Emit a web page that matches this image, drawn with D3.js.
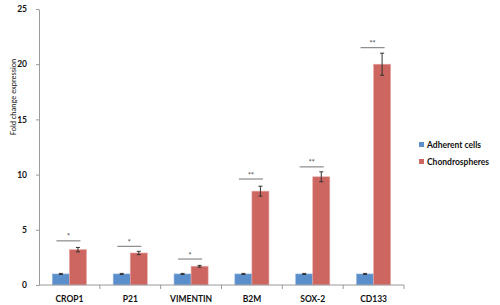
<!DOCTYPE html>
<html>
<head>
<meta charset="utf-8">
<script src="https://cdn.jsdelivr.net/npm/d3@7"></script>
<style>
  body { margin: 0; background: #fff; }
  text { font-family: Lato, "Open Sans", sans-serif; }
</style>
</head>
<body>
<div id="container"></div>
<script>
const width = 500,
  height = 305,
  margin = { top: 9, bottom: 20, left: 39, right: 96 };

/** -------------- DATA -------------- */

const categories = ["CROP1", "P21", "VIMENTIN", "B2M", "SOX-2", "CD133"];
const seriesNames = ["Adherent cells", "Chondrospheres"];
const adherent = [1.0, 1.0, 1.0, 1.0, 1.0, 1.0];
const adherentErr = [0.05, 0.05, 0.05, 0.05, 0.05, 0.05];
const chondro = [3.2, 2.9, 1.7, 8.5, 9.8, 20.0];
const chondroErr = [0.2, 0.15, 0.08, 0.45, 0.45, 1.0];
const sigLevel = [4.0, 3.5, 2.35, 9.6, 10.7, 21.5];
const sigLabel = ["*", "*", "*", "**", "**", "**"];
const yTicks = [0, 5, 10, 15, 20, 25];
const colors = ["#5b8fcc", "#cd6661"];

/** -------------- SCALES -------------- */

const plotRight = width - margin.right - 0;
const y = d3.scaleLinear([0, 25], [285, margin.top]);

const xb = d3.scaleBand(categories, [margin.left, 404]);
const x0 = d3.scaleBand(categories, [margin.left, 404])
  .paddingInner(0.44)
  .paddingOuter(0.22);
const x1 = d3.scaleBand([0, 1], [0, x0.bandwidth()]);

const rows = categories.map((c, i) => ({
  cat: c,
  vals: [adherent[i], chondro[i]],
  errs: [adherentErr[i], chondroErr[i]],
  sig: sigLevel[i],
  label: sigLabel[i]
}));

/** -------------- DRAW -------------- */

const svg = d3.select("#container")
  .append("svg")
  .attr("width", width)
  .attr("height", height);

// y axis
const yAxis = svg.append("g")
  .attr("transform", `translate(${margin.left},0)`)
  .call(d3.axisLeft(y).tickValues(yTicks).tickSize(3).tickSizeOuter(0).tickPadding(9));
yAxis.select(".domain").attr("stroke", "#9a9a9a");
yAxis.selectAll(".tick line").attr("stroke", "#9a9a9a");
yAxis.selectAll(".tick text")
  .attr("font-size", 8.5)
  .attr("font-weight", "bold")
  .attr("fill", "#111");

svg.append("text")
  .attr("transform", `translate(13,97) rotate(-90)`)
  .attr("text-anchor", "middle")
  .attr("dy", "0.35em")
  .attr("font-size", 7.5)
  .attr("fill", "#111")
  .text("Fold change expression");

// bars
const groups = svg.append("g")
  .selectAll("g")
  .data(rows)
  .join("g")
    .attr("transform", d => `translate(${x0(d.cat)},0)`);

groups.selectAll("rect")
  .data(d => d.vals.map((v, k) => ({ k, v })))
  .join("rect")
    .attr("x", d => x1(d.k))
    .attr("y", d => y(d.v))
    .attr("width", x1.bandwidth())
    .attr("height", d => y(0) - y(d.v))
    .attr("fill", d => colors[d.k])
    .attr("stroke", d => d.k ? "#e8a5a2" : "#8fb3dd")
    .attr("stroke-width", 0.6);

// error bars
groups.selectAll("g.err")
  .data(d => d.vals.map((v, k) => ({ k, v, e: d.errs[k] })))
  .join("g")
    .attr("class", "err")
    .attr("stroke", "#333")
    .attr("stroke-width", 1)
    .each(function (d) {
      const g = d3.select(this);
      const cx = x1(d.k) + x1.bandwidth() / 2;
      g.append("line").attr("x1", cx).attr("x2", cx).attr("y1", y(d.v + d.e)).attr("y2", y(d.v - d.e));
      g.append("line").attr("x1", cx - 2).attr("x2", cx + 2).attr("y1", y(d.v + d.e)).attr("y2", y(d.v + d.e));
      g.append("line").attr("x1", cx - 2).attr("x2", cx + 2).attr("y1", y(d.v - d.e)).attr("y2", y(d.v - d.e));
    });

// significance lines
groups.append("line")
  .attr("x1", 4)
  .attr("x2", x0.bandwidth() - 6)
  .attr("y1", d => y(d.sig))
  .attr("y2", d => y(d.sig))
  .attr("stroke", "#8a8a8a")
  .attr("stroke-width", 1.2);

groups.append("text")
  .attr("x", x0.bandwidth() / 2 - 1)
  .attr("y", d => y(d.sig) - 1.5)
  .attr("text-anchor", "middle")
  .attr("font-size", 7)
  .attr("font-weight", "bold")
  .attr("fill", "#555")
  .text(d => d.label);

// x axis
const xAxis = svg.append("g");
xAxis.append("line")
  .attr("x1", margin.left).attr("x2", 404)
  .attr("y1", y(0)).attr("y2", y(0))
  .attr("stroke", "#9a9a9a");
xAxis.selectAll("line.tick")
  .data(categories.slice(1).concat(["end"]))
  .join("line")
    .attr("class", "tick")
    .attr("x1", d => d === "end" ? 404 : xb(d))
    .attr("x2", d => d === "end" ? 404 : xb(d))
    .attr("y1", y(0))
    .attr("y2", y(0) + 4)
    .attr("stroke", "#9a9a9a");
xAxis.selectAll("text")
  .data(categories)
  .join("text")
    .attr("x", d => xb(d) + xb.bandwidth() / 2)
    .attr("y", 299)
    .attr("dy", "0.35em")
    .attr("text-anchor", "middle")
    .attr("font-size", 8.5)
    .attr("font-weight", "bold")
    .attr("fill", "#111")
    .text(d => d);

// legend
const legend = svg.append("g")
  .attr("transform", "translate(419,145)")
  .selectAll("g")
  .data(seriesNames)
  .join("g")
    .attr("transform", (d, i) => `translate(0,${i * 17})`);

legend.append("rect")
  .attr("x", 0).attr("y", -3)
  .attr("width", 5).attr("height", 5)
  .attr("fill", (d, i) => colors[i]);

legend.append("text")
  .attr("x", 8)
  .attr("dy", "0.35em")
  .attr("font-size", 8.5)
  .attr("font-weight", "bold")
  .attr("fill", "#111")
  .text(d => d);
</script>
</body>
</html>
